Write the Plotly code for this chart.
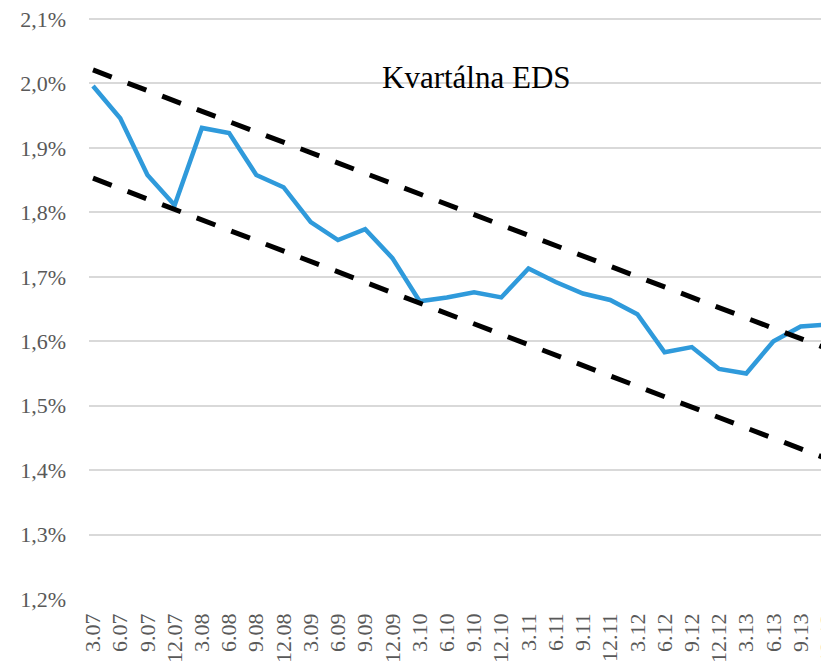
import plotly.graph_objects as go

quarters = ["3.07", "6.07", "9.07", "12.07", "3.08", "6.08", "9.08", "12.08",
            "3.09", "6.09", "9.09", "12.09", "3.10", "6.10", "9.10", "12.10",
            "3.11", "6.11", "9.11", "12.11", "3.12", "6.12", "9.12", "12.12",
            "3.13", "6.13", "9.13", "12.13"]
eds = [1.996, 1.946, 1.858, 1.811, 1.931, 1.923, 1.858, 1.839,
       1.785, 1.757, 1.774, 1.729, 1.662, 1.668, 1.676, 1.668,
       1.713, 1.692, 1.674, 1.664, 1.642, 1.583, 1.591, 1.557,
       1.550, 1.600, 1.623, 1.626]
trend_x = ["3.07", "12.13"]
upper_trend = [2.021, 1.588]
lower_trend = [1.853, 1.417]
y_ticks = [1.2, 1.3, 1.4, 1.5, 1.6, 1.7, 1.8, 1.9, 2.0, 2.1]
y_tick_text = ["1,2%", "1,3%", "1,4%", "1,5%", "1,6%", "1,7%", "1,8%", "1,9%", "2,0%", "2,1%"]
title_text = "Kvartálna EDS"

fig = go.Figure()
fig.add_trace(go.Scatter(x=quarters, y=eds, mode="lines",
                         line=dict(color="#2F9ADB", width=4.5), showlegend=False))
fig.add_trace(go.Scatter(x=trend_x, y=upper_trend, mode="lines",
                         line=dict(color="black", width=5, dash="20px,17px"), showlegend=False))
fig.add_trace(go.Scatter(x=trend_x, y=lower_trend, mode="lines",
                         line=dict(color="black", width=5, dash="20px,17px"), showlegend=False))

fig.add_annotation(text=title_text, xref="paper", yref="paper", x=0.523, y=0.898,
                   showarrow=False, xanchor="center", yanchor="middle",
                   font=dict(family="Liberation Serif", size=31, color="black"))

fig.update_layout(
    width=821, height=661,
    margin=dict(l=81, r=0, t=10, b=70, autoexpand=False),
    paper_bgcolor="white", plot_bgcolor="white",
    font=dict(family="Liberation Serif", color="#595959"),
)
fig.update_xaxes(type="category", range=[-0.147, 27.04], showgrid=False, zeroline=False,
                 showline=False, tickangle=-90, tickfont=dict(size=22, color="#595959"),
                 ticks="", automargin=False, ticklabelstandoff=9, ticklabeloverflow="allow")
fig.update_yaxes(range=[1.2, 2.1016], tickvals=y_ticks, ticktext=y_tick_text,
                 showgrid=True, gridcolor="#D9D9D9", gridwidth=1.5, zeroline=False,
                 showline=False, ticks="", tickfont=dict(size=22, color="#595959"),
                 automargin=False, ticklabelstandoff=22, ticklabeloverflow="allow")

fig.write_html("out.html")
